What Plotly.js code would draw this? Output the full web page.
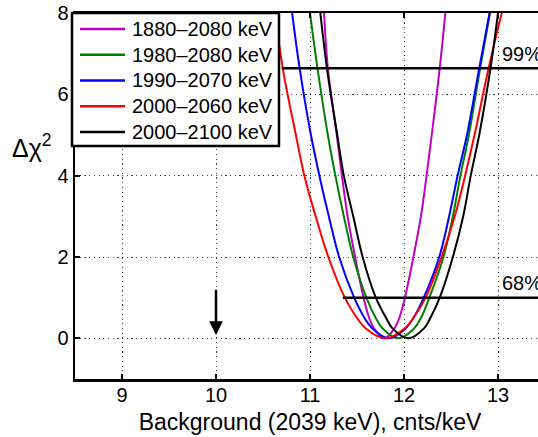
<!DOCTYPE html>
<html>
<head>
<meta charset="utf-8">
<script src="https://cdn.plot.ly/plotly-3.0.1.min.js"></script>
<style>
html,body{margin:0;padding:0;overflow:hidden;background:#fff;}
#chart{width:560px;height:437px;}
</style>
</head>
<body>
<div id="chart"></div>
<script>
// Values
const seriesLabels = ['1880–2080 keV', '1980–2080 keV', '1990–2070 keV', '2000–2060 keV', '2000–2100 keV'];
const seriesColors = ['#bf00bf', '#008000', '#0000ff', '#ff0000', '#000000'];
// Δχ² levels at which each curve was read
const dchi2Read = [8, 6.64, 5, 4, 3, 2, 1, 0.5, 0.25, 0, 0.25, 0.5, 1, 2, 3, 4, 5, 6.64, 8];
// background values (cnts/keV) where each curve crosses those levels
const bg1880_2080 = [11.15, 11.19, 11.285, 11.34, 11.40, 11.48, 11.57, 11.63, 11.68, 11.79, 11.90, 11.95, 12.01, 12.10, 12.18, 12.24, 12.295, 12.38, 12.44];
const bg1980_2080 = [11.00, 11.08, 11.19, 11.27, 11.36, 11.46, 11.60, 11.70, 11.77, 11.94, 12.11, 12.18, 12.27, 12.42, 12.52, 12.60, 12.69, 12.81, 12.915];
const bg1990_2070 = [10.81, 10.89, 11.01, 11.10, 11.20, 11.31, 11.47, 11.58, 11.66, 11.84, 12.02, 12.10, 12.21, 12.375, 12.48, 12.57, 12.67, 12.80, 12.91];
const bg2000_2060 = [10.63, 10.71, 10.85, 10.94, 11.06, 11.195, 11.37, 11.50, 11.59, 11.80, 12.01, 12.10, 12.23, 12.40, 12.54, 12.65, 12.75, 12.90, 13.04];
const bg2000_2100 = [11.11, 11.18, 11.29, 11.36, 11.46, 11.56, 11.70, 11.81, 11.875, 12.045, 12.215, 12.28, 12.38, 12.52, 12.63, 12.71, 12.80, 12.92, 13.00];
const seriesX = [bg1880_2080, bg1980_2080, bg1990_2070, bg2000_2060, bg2000_2100];

// confidence-level lines
const clLabels = ['68%', '99%'];
const clLevels = [1.0, 6.64];
const clStartX = [11.35, 10.70];
const clEndX = [13.6, 13.6];
const clLabelX = [13.02, 13.02];
const clLabelY = [1.35, 7.0];

// arrow at background = 10
const arrowX = [10, 10];
const arrowY = [1.23, 0.08];

const xTicks = [9, 10, 11, 12, 13];
const yTicks = [0, 2, 4, 6, 8];

const FONT = 'Liberation Sans, Arial, Helvetica, sans-serif';

const traces = [];
for (let i = 0; i < seriesLabels.length; i++) {
  traces.push({
    type: 'scatter', mode: 'lines',
    x: seriesX[i], y: dchi2Read,
    name: seriesLabels[i],
    line: {color: seriesColors[i], width: 2, shape: 'spline', smoothing: 1},
    showlegend: false, hoverinfo: 'skip'
  });
}
for (let i = 0; i < clLevels.length; i++) {
  traces.push({
    type: 'scatter', mode: 'lines',
    x: [clStartX[i], clEndX[i]], y: [clLevels[i], clLevels[i]],
    name: clLabels[i],
    line: {color: '#000', width: 2.5},
    showlegend: false, hoverinfo: 'skip'
  });
}

const annotations = [];
const shapes = [];
for (let i = 0; i < clLabels.length; i++) {
  annotations.push({
    x: clLabelX[i], y: clLabelY[i], xref: 'x', yref: 'y',
    text: clLabels[i], showarrow: false, xanchor: 'left', yanchor: 'middle',
    font: {family: FONT, size: 20, color: '#000'}
  });
}
annotations.push({
  x: arrowX[1], y: arrowY[1], ax: arrowX[0], ay: arrowY[0],
  xref: 'x', yref: 'y', axref: 'x', ayref: 'y',
  text: '', showarrow: true, arrowhead: 2, arrowsize: 1.1, arrowwidth: 2.5, arrowcolor: '#000'
});
annotations.push({
  x: -0.138, y: 0.637, xref: 'paper', yref: 'paper',
  text: 'Δχ<sup>2</sup>', showarrow: false, xanchor: 'left', yanchor: 'middle',
  font: {family: FONT, size: 25, color: '#000'}
});

// legend box (drawn in paper coordinates, MATLAB style)
const LEG = {x0: -0.0064, x1: 0.434, y0: 0.6366, y1: 1.0, lineX0: 0.0106, lineX1: 0.1064, textX: 0.1170, rowTop: 0.9563, rowStep: 0.07036};
shapes.push({type: 'rect', xref: 'paper', yref: 'paper', x0: LEG.x0, x1: LEG.x1, y0: LEG.y0, y1: LEG.y1,
  fillcolor: '#fff', line: {color: '#000', width: 2.5}, layer: 'above'});
for (let i = 0; i < seriesLabels.length; i++) {
  const yy = LEG.rowTop - i * LEG.rowStep;
  shapes.push({type: 'line', xref: 'paper', yref: 'paper', x0: LEG.lineX0, x1: LEG.lineX1, y0: yy, y1: yy,
    line: {color: seriesColors[i], width: 2.5}, layer: 'above'});
  annotations.push({x: LEG.textX, y: yy, xref: 'paper', yref: 'paper', text: seriesLabels[i],
    showarrow: false, xanchor: 'left', yanchor: 'middle', font: {family: FONT, size: 20, color: '#000'}});
}

const gridDash = '1.2px,3.5px';
const layout = {
  width: 560, height: 437,
  margin: {l: 75, r: 15, t: 13, b: 58},
  paper_bgcolor: '#fff', plot_bgcolor: '#fff',
  font: {family: FONT, size: 20, color: '#000'},
  showlegend: false,
  xaxis: {
    range: [8.5, 13.5], tickvals: xTicks, ticktext: xTicks.map(String),
    showline: true, linecolor: '#000', linewidth: 2.5, mirror: 'ticks',
    ticks: 'inside', ticklen: 5, tickwidth: 2, tickcolor: '#000',
    showgrid: true, gridcolor: '#444', gridwidth: 1, griddash: gridDash,
    zeroline: false, ticklabelstandoff: -4,
    tickfont: {family: FONT, size: 20, color: '#000'},
    title: {text: 'Background (2039 keV), cnts/keV', font: {family: FONT, size: 23, color: '#000'}, standoff: 10}
  },
  yaxis: {
    range: [-1, 8], tickvals: yTicks, ticktext: yTicks.map(String),
    showline: true, linecolor: '#000', linewidth: 2.5, mirror: 'ticks',
    ticks: 'inside', ticklen: 5, tickwidth: 2, tickcolor: '#000',
    showgrid: true, gridcolor: '#444', gridwidth: 1, griddash: gridDash,
    zeroline: false,
    tickfont: {family: FONT, size: 20, color: '#000'}
  },
  shapes: shapes,
  annotations: annotations
};

Plotly.newPlot('chart', traces, layout, {displayModeBar: false, staticPlot: true});
</script>
</body>
</html>
